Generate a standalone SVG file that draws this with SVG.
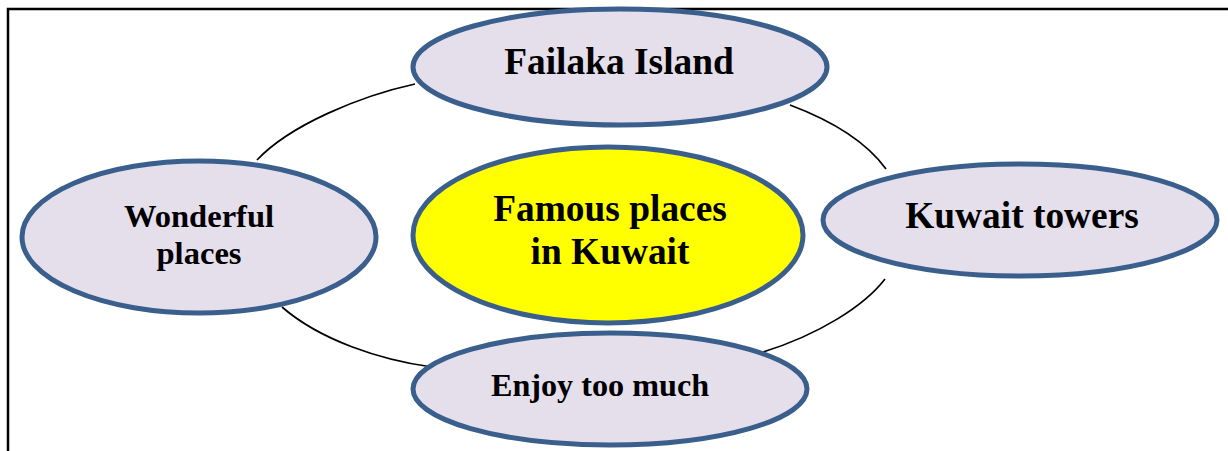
<svg xmlns="http://www.w3.org/2000/svg" width="1228" height="451" viewBox="0 0 1228 451">
<style>
.n{fill:#e5dfec;stroke:#3a5f8c;stroke-width:5}
.c{fill:#ffff00;stroke:#3a5f8c;stroke-width:5}
.t{font-family:"Liberation Serif","Times New Roman",serif;font-weight:bold;fill:#000;text-anchor:middle}
.arc{fill:none;stroke:#000;stroke-width:1.7}
</style>
<rect width="1228" height="451" fill="#fff"/>
<path d="M8,451 V9 H1228" fill="none" stroke="#000" stroke-width="2.5"/>
<g id="connectors">
<path class="arc" d="M415,84 C360,96 290,125 257,160"/>
<path class="arc" d="M282,307 C320,340 380,360 432,367"/>
<path class="arc" d="M790,105 C830,120 865,140 886,169"/>
<path class="arc" d="M885,279 C865,305 820,335 757,354"/>
</g>
<g id="failaka">
<ellipse class="n" cx="620" cy="67" rx="207" ry="58"/>
<text class="t" x="619" y="74" font-size="37.4">Failaka Island</text>
</g>
<g id="wonderful">
<ellipse class="n" cx="199" cy="237" rx="177" ry="76"/>
<text class="t" x="199" y="227" font-size="32.6">Wonderful</text>
<text class="t" x="199" y="264" font-size="32.6">places</text>
</g>
<g id="center">
<ellipse class="c" cx="608" cy="235" rx="195" ry="88"/>
<text class="t" x="610" y="221" font-size="37.4">Famous places</text>
<text class="t" x="610" y="264" font-size="37.4">in Kuwait</text>
</g>
<g id="kuwait">
<ellipse class="n" cx="1020" cy="220" rx="197" ry="56"/>
<text class="t" x="1022" y="228" font-size="37.4">Kuwait towers</text>
</g>
<g id="enjoy">
<ellipse class="n" cx="610" cy="389" rx="197" ry="56"/>
<text class="t" x="600" y="396" font-size="32.2">Enjoy too much</text>
</g>
</svg>
